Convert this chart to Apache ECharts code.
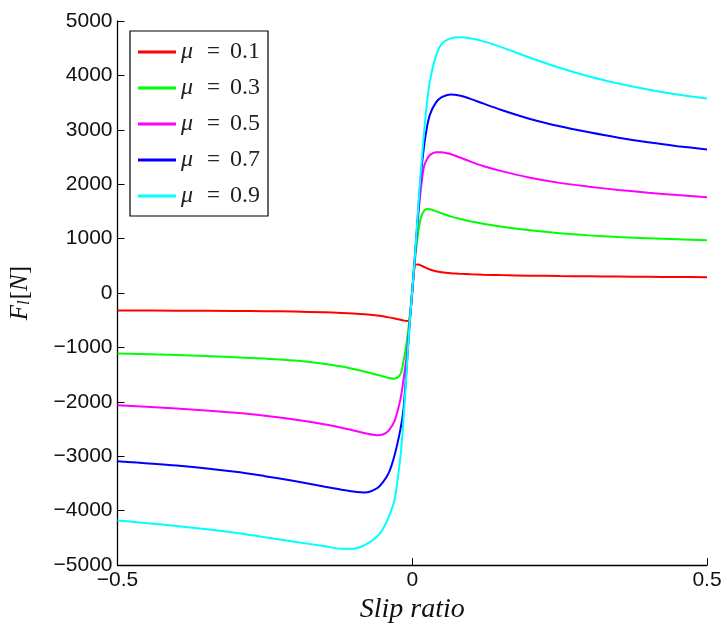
<!DOCTYPE html>
<html>
<head>
<meta charset="utf-8">
<script src="https://cdn.jsdelivr.net/npm/echarts@6/dist/echarts.min.js"></script>
<style>
html,body{margin:0;padding:0;background:#fff;}
#chart{width:727px;height:629px;}
</style>
</head>
<body>
<div id="chart"></div>
<script>
var slip = [-0.5,-0.4,-0.3,-0.25,-0.2,-0.15,-0.12,-0.1,-0.08,-0.06,-0.05,-0.04,-0.03,-0.02,-0.015,-0.01,-0.005,0,0.005,0.01,0.015,0.02,0.025,0.03,0.04,0.05,0.065,0.08,0.1,0.12,0.15,0.2,0.25,0.3,0.35,0.4,0.45,0.5];

var mu01 = [-320,-325,-330,-333,-340,-355,-365,-375,-390,-413,-428,-447,-468,-492,-503,-513,-500,0,520,525,505,480,455,432,402,383,366,356,346,338,330,320,312,307,303,299,295,290];
var mu03 = [-1110,-1140,-1180,-1205,-1240,-1300,-1350,-1395,-1445,-1500,-1530,-1558,-1575,-1490,-1260,-950,-500,50,650,1100,1400,1510,1545,1540,1505,1465,1410,1365,1315,1275,1225,1155,1100,1060,1030,1008,988,970];
var mu05 = [-2060,-2120,-2200,-2255,-2325,-2410,-2475,-2525,-2575,-2612,-2600,-2530,-2350,-1950,-1600,-1200,-600,50,700,1400,1950,2330,2460,2540,2590,2590,2555,2495,2410,2335,2245,2120,2025,1955,1895,1845,1800,1760];
var mu07 = [-3090,-3170,-3285,-3365,-3455,-3555,-3615,-3648,-3665,-3590,-3480,-3310,-2980,-2500,-2150,-1450,-650,50,750,1500,2200,2700,3050,3280,3500,3600,3650,3630,3565,3485,3370,3200,3065,2955,2855,2770,2700,2640];
var mu09 = [-4180,-4280,-4405,-4490,-4570,-4650,-4700,-4700,-4630,-4480,-4340,-4120,-3800,-3000,-2350,-1500,-650,50,750,1550,2300,2950,3500,3900,4350,4580,4680,4700,4680,4630,4525,4325,4140,3980,3850,3740,3650,3575];

var seriesNames = ['μ = 0.1','μ = 0.3','μ = 0.5','μ = 0.7','μ = 0.9'];
var seriesValues = [mu01, mu03, mu05, mu07, mu09];
var seriesColors = ['#ff0000','#00ff00','#ff00ff','#0000ff','#00ffff'];

function pairs(vals){
  return slip.map(function(s,i){return [s, vals[i]];});
}
function minusFmt(v){ return String(v).replace('-', '\u2212'); }

var chart = echarts.init(document.getElementById('chart'), null, {renderer:'canvas'});
var series = seriesNames.map(function(n,i){
  return {
    name:n, type:'line', data:pairs(seriesValues[i]),
    symbol:'none', smooth:0.3,
    lineStyle:{color:seriesColors[i], width:2},
    itemStyle:{color:seriesColors[i]},
    animation:false
  };
});

chart.setOption({
  animation:false,
  backgroundColor:'#fff',
  grid:{left:114, right:20, top:21, bottom:58, containLabel:false},
  legend:{
    left:130, top:31, orient:'vertical',
    padding:[9,8,8,8],
    itemGap:12, itemWidth:38, itemHeight:3, icon:'rect',
    borderColor:'#000', borderWidth:1.2, backgroundColor:'#fff',
    data:seriesNames,
    formatter:function(n){ var p=n.split(' = '); return '{m|μ}{e|=}{v|' + p[1] + '}'; },
    textStyle:{
      fontFamily:'Liberation Serif', fontSize:23, color:'#222', lineHeight:24,
      rich:{
        m:{fontFamily:'Liberation Serif', fontStyle:'italic', fontSize:24, color:'#222', lineHeight:24},
        e:{fontFamily:'Liberation Serif', fontSize:23, color:'#222', lineHeight:24, padding:[0,10,0,14]},
        v:{fontFamily:'Liberation Serif', fontSize:24, color:'#222', lineHeight:24}
      }
    }
  },
  xAxis:{
    type:'value', min:-0.5, max:0.5, interval:0.5,
    name:'Slip ratio', nameLocation:'middle', nameGap:25,
    nameTextStyle:{fontFamily:'Liberation Serif', fontStyle:'italic', fontSize:28, color:'#111'},
    axisLine:{show:true, onZero:false, lineStyle:{color:'#000', width:1.3}},
    axisTick:{show:true, inside:true, length:7, lineStyle:{color:'#000'}},
    axisLabel:{formatter:minusFmt, fontFamily:'Liberation Sans', fontSize:21, color:'#111', margin:5},
    splitLine:{show:false}
  },
  yAxis:{
    type:'value', min:-5000, max:5000, interval:1000,
    name:'{i|F}{s|l}{b|[}{i|N}{b|]}', nameLocation:'middle', nameGap:84, nameRotate:90,
    nameTextStyle:{fontFamily:'Liberation Serif', fontSize:23, color:'#111',
      rich:{
        i:{fontFamily:'Liberation Serif', fontStyle:'italic', fontSize:25, color:'#111'},
        s:{fontFamily:'Liberation Serif', fontStyle:'italic', fontSize:17, color:'#111', padding:[9,1,0,0]},
        b:{fontFamily:'Liberation Serif', fontSize:25, color:'#111'}
      }},
    axisLine:{show:true, onZero:false, lineStyle:{color:'#000', width:1.3}},
    axisTick:{show:true, inside:true, length:7, lineStyle:{color:'#000'}},
    axisLabel:{formatter:minusFmt, fontFamily:'Liberation Sans', fontSize:21, color:'#111', margin:5},
    splitLine:{show:false}
  },
  series:series
});
</script>
</body>
</html>
